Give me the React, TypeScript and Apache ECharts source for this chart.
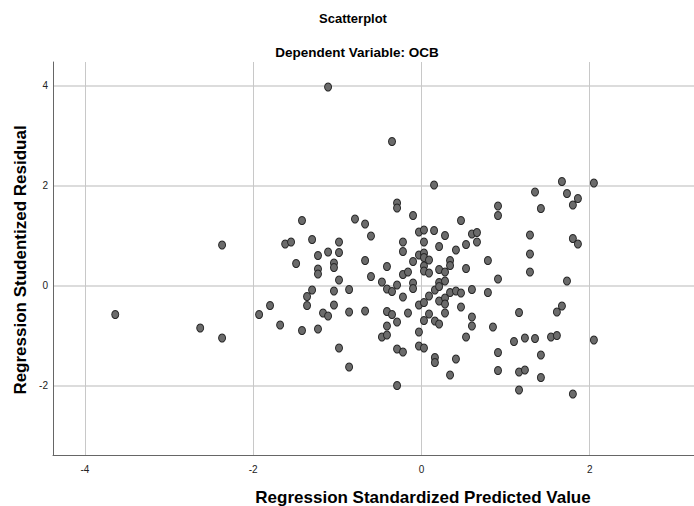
import React, { useEffect, useRef } from "react";
import * as echarts from "echarts";

const predicted = [
  -3.64, -2.63, -2.37, -2.37, -1.93, -1.8, -1.68, -1.62, -1.55, -1.49,
  -1.42, -1.42, -1.36, -1.36, -1.3, -1.3, -1.23, -1.23, -1.23, -1.23,
  -1.17, -1.11, -1.11, -1.11, -1.04, -1.04, -1.04, -1.04, -0.98, -0.98,
  -0.98, -0.98, -0.86, -0.86, -0.86, -0.79, -0.67, -0.67, -0.67, -0.6,
  -0.6, -0.47, -0.47, -0.41, -0.41, -0.41, -0.41, -0.41, -0.35, -0.35,
  -0.35, -0.29, -0.29, -0.29, -0.29, -0.29, -0.29, -0.22, -0.22, -0.22,
  -0.22, -0.22, -0.16, -0.16, -0.1, -0.1, -0.1, -0.1, -0.03, -0.03,
  -0.03, -0.03, -0.03, 0.03, 0.03, 0.03, 0.03, 0.03, 0.03, 0.03,
  0.03, 0.03, 0.09, 0.09, 0.09, 0.09, 0.15, 0.15, 0.16, 0.16,
  0.16, 0.16, 0.21, 0.21, 0.21, 0.21, 0.21, 0.21, 0.28, 0.28,
  0.28, 0.28, 0.28, 0.28, 0.34, 0.34, 0.34, 0.34, 0.41, 0.41,
  0.41, 0.47, 0.47, 0.47, 0.53, 0.53, 0.53, 0.6, 0.6, 0.6,
  0.6, 0.66, 0.66, 0.79, 0.79, 0.85, 0.91, 0.91, 0.91, 0.91,
  0.91, 1.1, 1.16, 1.16, 1.16, 1.23, 1.23, 1.29, 1.29, 1.29,
  1.35, 1.35, 1.42, 1.42, 1.42, 1.54, 1.61, 1.61, 1.67, 1.67,
  1.73, 1.73, 1.8, 1.8, 1.8, 1.86, 1.86, 2.05, 2.05,
];

const residual = [
  -0.58, -0.85, -1.05, 0.81, -0.58, -0.4, -0.79, 0.83, 0.87, 0.44,
  1.3, -0.9, -0.22, -0.4, 0.92, -0.09, 0.6, 0.33, 0.23, -0.87,
  -0.55, 3.97, 0.67, -0.61, 0.45, 0.36, -0.11, -0.39, 0.87, 0.66,
  0.11, -1.25, -0.08, -0.53, -1.63, 1.33, 1.23, 0.5, -0.51, 0.99,
  0.18, 0.07, -1.03, 0.38, -0.07, -0.52, -0.81, -0.99, 2.88, -0.12,
  -0.58, 1.65, 1.55, 0.01, -0.73, -1.27, -2.0, 0.87, 0.68, 0.22,
  -0.23, -1.33, 0.27, -0.55, 1.4, 0.48, 0.05, -0.06, 1.07, 0.61,
  -0.39, -0.93, -1.21, 1.11, 0.87, 0.65, 0.56, 0.39, 0.29, -0.34,
  -0.7, -1.25, 0.51, 0.25, -0.21, -0.57, 2.01, 1.1, -0.09, -0.71,
  -1.44, -1.54, 0.78, 0.32, 0.06, -0.02, -0.31, -0.77, 1.0, 0.27,
  0.09, -0.25, -0.37, -0.55, 0.5, 0.4, -0.14, -1.79, 0.71, -0.11,
  -1.47, 1.3, -0.15, -0.43, 0.82, 0.34, -1.03, 1.03, -0.08, -0.63,
  -0.81, 1.06, 0.87, 0.5, -0.14, -0.83, 1.59, 1.4, 0.13, -1.34,
  -1.7, -1.12, -0.54, -1.73, -2.09, -1.05, -1.69, 1.01, 0.63, 0.27,
  1.87, -1.06, 1.54, -1.39, -1.84, -1.03, -0.53, -1.0, 2.08, -0.41,
  1.84, 0.09, 1.61, 0.94, -2.17, 1.74, 0.83, 2.05, -1.09,
];

const xTicks = [-4, -2, 0, 2];
const yTicks = [-2, 0, 2, 4];

const titleMain = "Scatterplot";
const titleSub = "Dependent Variable: OCB";
const xTitle = "Regression Standardized Predicted Value";
const yTitle = "Regression Studentized Residual";

export default function App() {
  const ref = useRef<HTMLDivElement>(null);

  useEffect(() => {
    const chart = echarts.init(ref.current as HTMLDivElement, null, { renderer: "svg" });
    const font = "'Liberation Sans', Arial, sans-serif";
    chart.setOption({
      animation: false,
      backgroundColor: "#ffffff",
      grid: { left: 53, right: 0, top: 62, bottom: 51, containLabel: false },
      xAxis: {
        type: "value",
        min: -4.38,
        max: 3.24,
        axisLine: { show: true, onZero: false, lineStyle: { color: "#666666", width: 1 } },
        axisTick: { show: false, customValues: xTicks },
        axisLabel: { customValues: xTicks, color: "#222222", fontSize: 10, fontFamily: font, margin: 9 },
        splitLine: { show: true, lineStyle: { color: "#c8c8c8", width: 1 } },
      },
      yAxis: {
        type: "value",
        min: -3.39,
        max: 4.47,
        axisLine: { show: true, onZero: false, lineStyle: { color: "#666666", width: 1 } },
        axisTick: { show: false, customValues: yTicks },
        axisLabel: { customValues: yTicks, color: "#222222", fontSize: 10, fontFamily: font, margin: 5 },
        splitLine: { show: true, lineStyle: { color: "#d0d0d0", width: 1.5 } },
      },
      graphic: [
        {
          type: "text",
          x: 353,
          y: 18,
          style: { text: titleMain, textAlign: "center", textVerticalAlign: "middle", font: `bold 13px ${font}`, fill: "#000" },
        },
        {
          type: "text",
          x: 357,
          y: 52,
          style: { text: titleSub, textAlign: "center", textVerticalAlign: "middle", font: `bold 13.5px ${font}`, fill: "#000" },
        },
        {
          type: "text",
          x: 423,
          y: 497,
          style: { text: xTitle, textAlign: "center", textVerticalAlign: "middle", font: `bold 17px ${font}`, fill: "#000" },
        },
        {
          type: "text",
          x: 20,
          y: 260,
          rotation: Math.PI / 2,
          style: { text: yTitle, textAlign: "center", textVerticalAlign: "middle", font: `bold 17px ${font}`, fill: "#000" },
        },
      ],
      series: [
        {
          type: "scatter",
          data: predicted.map((x, i) => [x, residual[i]]),
          symbol: "circle",
          symbolSize: [7, 8],
          itemStyle: { color: "#6b6b6b", borderColor: "#262626", borderWidth: 1, opacity: 1 },
          emphasis: { disabled: true },
        },
      ],
    });
    return () => chart.dispose();
  }, []);

  return <div ref={ref} style={{ position: "absolute", left: 0, top: 0, width: 694, height: 506 }} />;
}
